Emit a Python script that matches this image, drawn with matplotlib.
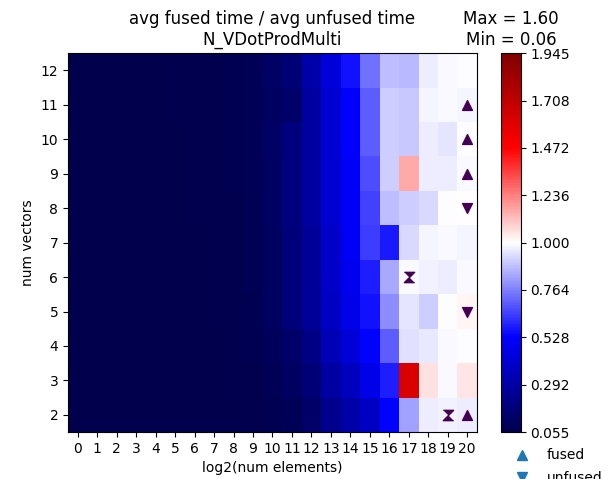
import numpy as np
import matplotlib
matplotlib.use("Agg")
import matplotlib.pyplot as plt
from matplotlib.lines import Line2D

# x: log2(num elements), y: num vectors
log2_elems = list(range(0, 21))
num_vectors = list(range(2, 13))

# avg fused time / avg unfused time, one row per num vectors (2 .. 12)
ratio = np.array([
    # 0     1     2     3     4     5     6     7     8     9     10    11    12    13    14    15    16    17    18    19    20
    [0.0554, 0.056, 0.056, 0.056, 0.057, 0.057, 0.058, 0.059, 0.062, 0.068, 0.076, 0.085, 0.135, 0.230, 0.300, 0.380, 0.535, 0.824, 0.970, 0.975, 0.965],  # 2
    [0.056, 0.056, 0.057, 0.057, 0.058, 0.058, 0.059, 0.060, 0.063, 0.070, 0.083, 0.110, 0.170, 0.280, 0.360, 0.470, 0.585, 1.600, 1.057, 0.990, 1.050],  # 3
    [0.056, 0.057, 0.057, 0.058, 0.058, 0.059, 0.060, 0.061, 0.065, 0.073, 0.093, 0.135, 0.210, 0.340, 0.430, 0.530, 0.700, 0.945, 0.960, 0.990, 0.995],  # 4
    [0.057, 0.057, 0.058, 0.058, 0.059, 0.060, 0.061, 0.063, 0.067, 0.076, 0.108, 0.175, 0.260, 0.380, 0.470, 0.560, 0.790, 0.952, 0.910, 0.995, 1.020],  # 5
    [0.057, 0.058, 0.058, 0.059, 0.059, 0.060, 0.062, 0.064, 0.068, 0.078, 0.113, 0.175, 0.260, 0.385, 0.487, 0.585, 0.840, 0.990, 0.975, 0.965, 0.990],  # 6
    [0.058, 0.058, 0.059, 0.059, 0.060, 0.061, 0.062, 0.064, 0.069, 0.080, 0.113, 0.175, 0.260, 0.385, 0.510, 0.645, 0.575, 0.930, 0.980, 0.990, 0.980],  # 7
    [0.058, 0.059, 0.059, 0.060, 0.060, 0.061, 0.063, 0.065, 0.070, 0.083, 0.118, 0.190, 0.280, 0.405, 0.515, 0.650, 0.880, 0.910, 0.930, 0.995, 1.005],  # 8
    [0.059, 0.059, 0.060, 0.060, 0.061, 0.062, 0.063, 0.066, 0.071, 0.086, 0.120, 0.190, 0.280, 0.405, 0.520, 0.675, 0.910, 1.157, 0.970, 0.970, 0.990],  # 9
    [0.059, 0.060, 0.060, 0.061, 0.061, 0.062, 0.064, 0.066, 0.072, 0.088, 0.123, 0.190, 0.280, 0.405, 0.525, 0.700, 0.910, 0.900, 0.970, 0.952, 0.995],  # 10
    [0.060, 0.060, 0.060, 0.061, 0.062, 0.063, 0.064, 0.067, 0.073, 0.088, 0.118, 0.135, 0.280, 0.405, 0.525, 0.700, 0.905, 0.900, 0.985, 0.990, 0.980],  # 11
    [0.060, 0.060, 0.061, 0.061, 0.062, 0.063, 0.065, 0.068, 0.075, 0.090, 0.128, 0.170, 0.300, 0.425, 0.560, 0.735, 0.880, 0.870, 0.970, 0.990, 1.000],  # 12
])

# significance markers
fused_x = [20, 20, 20, 20]
fused_y = [2, 9, 10, 11]
unfused_x = [20, 20]
unfused_y = [5, 8]
both_x = [17, 19]
both_y = [6, 2]

# colour range symmetric around 1
vmin = ratio.min()
vmax = 2 - vmin

fig = plt.figure(figsize=(6.13, 4.79), dpi=100)
ax = fig.add_axes([0.111, 0.098, 0.667, 0.791])
cax = fig.add_axes([0.817, 0.098, 0.0326, 0.791])

im = ax.imshow(ratio, cmap="seismic", vmin=vmin, vmax=vmax, origin="lower",
               aspect="auto",
               extent=[log2_elems[0] - 0.5, log2_elems[-1] + 0.5,
                       num_vectors[0] - 0.5, num_vectors[-1] + 0.5])

mcolor = "#440154"
ax.scatter(fused_x, fused_y, marker="^", s=50, color=mcolor)
ax.scatter(unfused_x, unfused_y, marker="v", s=50, color=mcolor)
hourglass = [(-1, 1), (1, 1), (-1, -1), (1, -1)]
ax.scatter(both_x, both_y, marker=hourglass, s=55, color=mcolor)

ax.set_xticks(log2_elems)
ax.set_yticks(num_vectors)
ax.set_xlabel("log2(num elements)")
ax.set_ylabel("num vectors")
ax.set_title("avg fused time / avg unfused time\nN_VDotProdMulti", fontsize=12)

cb = fig.colorbar(im, cax=cax)
cticks = np.linspace(vmin, vmax, 9)
cb.set_ticks(cticks)
cb.set_ticklabels(["%.3f" % t for t in cticks])
cax.set_title("Max = %.2f\nMin = %.2f" % (ratio.max(), ratio.min()), fontsize=12)

handles = [Line2D([], [], marker="^", linestyle="", color="C0", markersize=7, label="fused"),
           Line2D([], [], marker="v", linestyle="", color="C0", markersize=7, label="unfused")]
fig.legend(handles=handles, loc="upper left", bbox_to_anchor=(0.808, 0.09),
           frameon=False, fontsize=10, labelspacing=0.6)

fig.savefig("out.png", dpi=100)
